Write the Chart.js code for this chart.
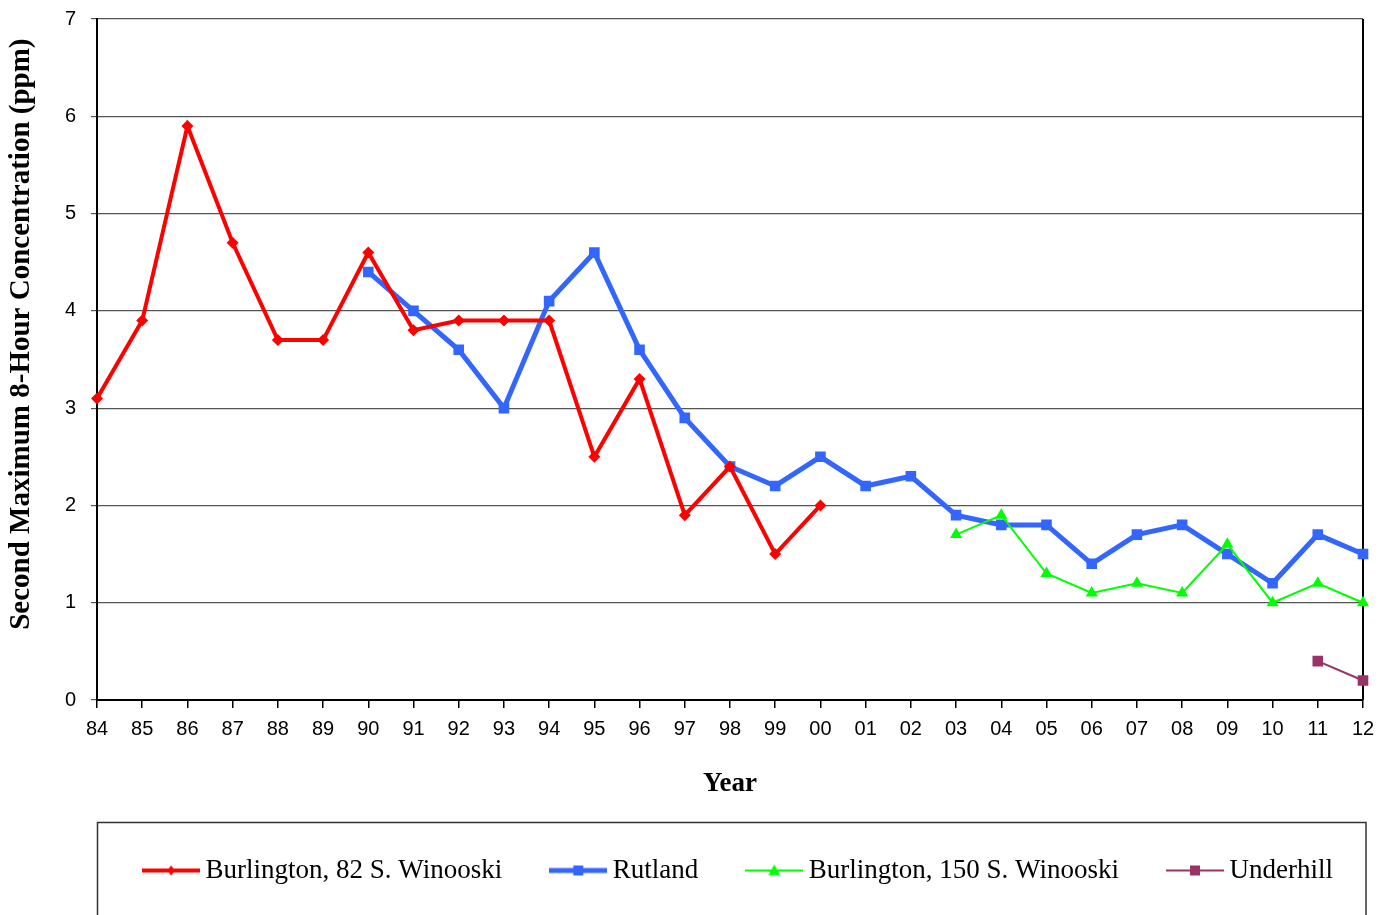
<!DOCTYPE html>
<html>
<head>
<meta charset="utf-8">
<script src="https://cdn.jsdelivr.net/npm/chart.js@4.4.1/dist/chart.umd.min.js"></script>
<style>
html,body{margin:0;padding:0;background:#fff;}
#wrap{width:1387px;height:915px;position:relative;}
</style>
</head>
<body>
<div id="wrap"><canvas id="c" width="1387" height="915"></canvas></div>
<script>
const years = ['84','85','86','87','88','89','90','91','92','93','94','95','96','97','98','99','00','01','02','03','04','05','06','07','08','09','10','11','12'];
const burlington82 = [3.1,3.9,5.9,4.7,3.7,3.7,4.6,3.8,3.9,3.9,3.9,2.5,3.3,1.9,2.4,1.5,2.0,null,null,null,null,null,null,null,null,null,null,null,null];
const rutland = [null,null,null,null,null,null,4.4,4.0,3.6,3.0,4.1,4.6,3.6,2.9,2.4,2.2,2.5,2.2,2.3,1.9,1.8,1.8,1.4,1.7,1.8,1.5,1.2,1.7,1.5];
const burlington150 = [null,null,null,null,null,null,null,null,null,null,null,null,null,null,null,null,null,null,null,1.7,1.9,1.3,1.1,1.2,1.1,1.6,1.0,1.2,1.0];
const underhill = [null,null,null,null,null,null,null,null,null,null,null,null,null,null,null,null,null,null,null,null,null,null,null,null,null,null,null,0.4,0.2];
const seriesNames = ['Burlington, 82 S. Winooski','Rutland','Burlington, 150 S. Winooski','Underhill'];
const yTicks = [0,1,2,3,4,5,6,7];
const yTitle = 'Second Maximum 8-Hour Concentration (ppm)';

function legendImg(color, lw, marker, r){
  const c = document.createElement('canvas');
  c.width = 58; c.height = 18;
  const g = c.getContext('2d');
  g.strokeStyle = color; g.fillStyle = color; g.lineWidth = lw;
  g.beginPath(); g.moveTo(0, 9); g.lineTo(58, 9); g.stroke();
  const x = 29, y = 9;
  g.beginPath();
  if (marker === 'rectRot'){ g.moveTo(x, y-r); g.lineTo(x+r*0.8, y); g.lineTo(x, y+r); g.lineTo(x-r*0.8, y); g.closePath(); }
  else if (marker === 'rect'){ g.rect(x-r, y-r, 2*r, 2*r); }
  else if (marker === 'triangle'){ g.moveTo(x, y-r); g.lineTo(x+r, y+r*0.8); g.lineTo(x-r, y+r*0.8); g.closePath(); }
  g.fill();
  return c;
}

const styles = [
  {color:'#FF0000', lw:4, marker:'rectRot', r:6, lr:5, order:0},
  {color:'#3366FF', lw:5, marker:'rect', r:7.5, lr:5, order:2},
  {color:'#00FF00', lw:2, marker:'triangle', r:7, lr:6, order:1},
  {color:'#993366', lw:2, marker:'rect', r:7.5, lr:5, order:0}
];
const allData = [burlington82, rutland, burlington150, underhill];

const datasets = allData.map((d,i)=>({
  label: seriesNames[i],
  data: d,
  borderColor: styles[i].color,
  backgroundColor: styles[i].color,
  borderWidth: styles[i].lw,
  pointStyle: styles[i].marker,
  pointRadius: styles[i].r,
  pointBorderWidth: 0,
  pointBackgroundColor: styles[i].color,
  tension: 0,
  spanGaps: false,
  order: styles[i].order
}));

const framePlugin = {
  id: 'frame',
  afterLayout(chart){
    const lg = chart.legend;
    if (lg){ lg.left += 60; lg.right += 60; }
  },
  beforeDatasetsDraw(chart){
    const a = chart.chartArea, ctx = chart.ctx;
    ctx.save();
    ctx.strokeStyle = '#000'; ctx.lineWidth = 2;
    ctx.beginPath();
    ctx.moveTo(a.right, a.top); ctx.lineTo(a.right, a.bottom);
    ctx.stroke();
    ctx.restore();
  },
  afterDraw(chart){
    const ctx = chart.ctx;
    ctx.save();
    ctx.strokeStyle = '#333'; ctx.lineWidth = 1.5;
    ctx.strokeRect(97.5, 822.5, 1268.5, 200);
    ctx.restore();
  }
};

new Chart(document.getElementById('c'), {
  type: 'line',
  data: { labels: years, datasets },
  plugins: [framePlugin],
  options: {
    responsive: false,
    animation: false,
    devicePixelRatio: 1,
    layout: { padding: { left: 0, right: 24, top: 19, bottom: 21 } },
    plugins: {
      tooltip: { enabled: false },
      legend: {
        position: 'bottom',
        labels: {
          usePointStyle: true,
          pointStyleWidth: 42,
          padding: 55,
          color: '#000',
          font: { family: '"Liberation Serif", "Times New Roman", serif', size: 27 },
          generateLabels(chart){
            return chart.data.datasets.map((ds,i)=>({
              text: ds.label,
              pointStyle: legendImg(styles[i].color, styles[i].lw, styles[i].marker, styles[i].lr),
              fillStyle: styles[i].color,
              strokeStyle: styles[i].color,
              lineWidth: 0,
              datasetIndex: i,
              hidden: false,
              fontColor: '#000'
            }));
          }
        }
      }
    },
    scales: {
      x: {
        type: 'category',
        offset: false,
        afterFit(scale){ scale.height = 102; scale.paddingLeft = 0; scale.paddingRight = 0; },
        grid: { drawOnChartArea: false, drawTicks: true, tickLength: 8, color: '#000', lineWidth: 1.5 },
        border: { display: true, color: '#000', width: 2 },
        ticks: { color: '#000', font: { family: '"Liberation Sans", Arial, sans-serif', size: 20 }, padding: 9, maxRotation: 0, autoSkip: false },
        title: { display: true, text: 'Year', color: '#000', font: { family: '"Liberation Serif", "Times New Roman", serif', size: 27, weight: 'bold' }, padding: { top: 0, bottom: 2 } }
      },
      y: {
        min: 0, max: 7,
        afterFit(scale){ scale.width = 97; scale.paddingTop = 0; scale.paddingBottom = 0; },
        afterBuildTicks(scale){ scale.ticks = yTicks.map(v=>({value:v})); },
        grid: { drawOnChartArea: true, drawTicks: true, tickLength: 6, color: '#555', lineWidth: 1.2 },
        border: { display: true, color: '#000', width: 2 },
        ticks: { color: '#000', font: { family: '"Liberation Sans", Arial, sans-serif', size: 20 }, padding: 15 },
        title: { display: true, text: '       ' + yTitle, color: '#000', font: { family: '"Liberation Serif", "Times New Roman", serif', size: 29, weight: 'bold' }, padding: { top: 4, bottom: 0 } }
      }
    }
  }
});
</script>
</body>
</html>
